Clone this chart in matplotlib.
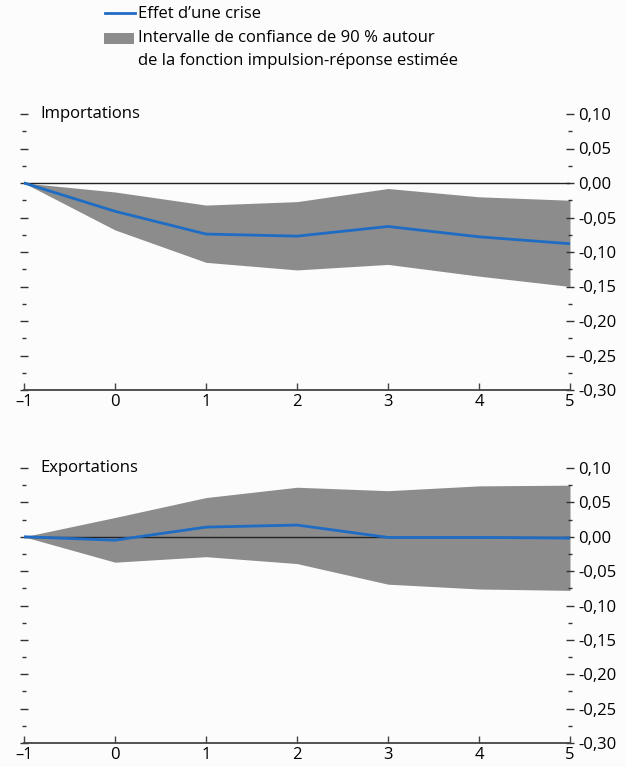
import numpy as np
import matplotlib
matplotlib.use("Agg")
import matplotlib.pyplot as plt
from matplotlib.lines import Line2D
from matplotlib.patches import Rectangle
from matplotlib.ticker import MultipleLocator, FuncFormatter

plt.rcParams['font.family'] = ['Open Sans', 'DejaVu Sans']

# horizons
horizons = [-1, 0, 1, 2, 3, 4, 5]
xtick_labels = ['–1', '0', '1', '2', '3', '4', '5']

# importations
imp_effet = [0.0, -0.041, -0.074, -0.077, -0.063, -0.078, -0.088]
imp_haut = [0.0, -0.013, -0.032, -0.027, -0.008, -0.020, -0.025]
imp_bas = [0.0, -0.068, -0.115, -0.126, -0.118, -0.135, -0.150]

# exportations
exp_effet = [0.0, -0.005, 0.014, 0.017, -0.001, -0.001, -0.002]
exp_haut = [0.0, 0.028, 0.057, 0.072, 0.067, 0.074, 0.075]
exp_bas = [0.0, -0.037, -0.029, -0.039, -0.069, -0.076, -0.078]

panneaux = ['Importations', 'Exportations']

bleu = '#1f6cc4'
gris = '#8c8c8c'
fond = '#fcfcfc'
fs = 12

fig = plt.figure(figsize=(6.26, 7.67), dpi=100, facecolor=fond)

# legende (dessinee a la main)
fig.add_artist(Line2D([105 / 626, 135 / 626], [1 - 13 / 767, 1 - 13 / 767],
                      color=bleu, lw=2, transform=fig.transFigure))
fig.add_artist(Rectangle((104 / 626, 1 - 44 / 767), 30 / 626, 11 / 767,
                         facecolor=gris, edgecolor='none', transform=fig.transFigure))
fig.text(138 / 626, 1 - 14 / 767, "Effet d’une crise", fontsize=fs, va='center')
fig.text(138 / 626, 1 - 38 / 767, "Intervalle de confiance de 90 % autour",
         fontsize=fs, va='center')
fig.text(138 / 626, 1 - 61 / 767, "de la fonction impulsion-réponse estimée",
         fontsize=fs, va='center')

L, R = 24 / 626, 570 / 626
positions = [(1 - 390 / 767, 1 - 114 / 767), (1 - 743 / 767, 1 - 468 / 767)]
series = [(imp_effet, imp_haut, imp_bas), (exp_effet, exp_haut, exp_bas)]


def fmt(v, pos):
    s = '%.2f' % v
    if s == '-0.00':
        s = '0.00'
    return s.replace('.', ',')


for (b, t), nom, (eff, haut, bas) in zip(positions, panneaux, series):
    ax = fig.add_axes([L, b, R - L, t - b])
    ax.set_facecolor(fond)
    ax.fill_between(horizons, bas, haut, color=gris, lw=0, zorder=1)
    ax.axhline(0, color='#222222', lw=1.0, zorder=2)
    ax.plot(horizons, eff, color=bleu, lw=2, zorder=3)
    ax.set_xlim(-1, 5)
    ax.set_ylim(-0.30, 0.10)

    for s in ['left', 'top', 'right']:
        ax.spines[s].set_visible(False)
    ax.spines['bottom'].set_color('#444444')
    ax.spines['bottom'].set_linewidth(1.3)

    ax.set_xticks(horizons)
    ax.set_xticklabels(xtick_labels)
    ax.tick_params(axis='x', direction='in', length=5, width=1, color='#444444',
                   labelsize=fs, pad=3)

    # graduations a gauche (sans etiquettes) et a droite (avec etiquettes)
    ax.yaxis.set_major_locator(MultipleLocator(0.05))
    ax.yaxis.set_minor_locator(MultipleLocator(0.025))
    ax.yaxis.set_major_formatter(FuncFormatter(fmt))
    ax.tick_params(axis='y', which='major', left=True, right=True,
                   labelleft=False, labelright=True, direction='inout',
                   length=6, width=1, color='#333333', labelsize=fs, pad=3)
    ax.tick_params(axis='y', which='minor', left=True, right=True,
                   direction='inout', length=3, width=1, color='#333333')

    ax.text(0.03, 1.0, nom, transform=ax.transAxes, fontsize=fs,
            ha='left', va='center')

fig.savefig('out.png', dpi=100, facecolor=fond)
